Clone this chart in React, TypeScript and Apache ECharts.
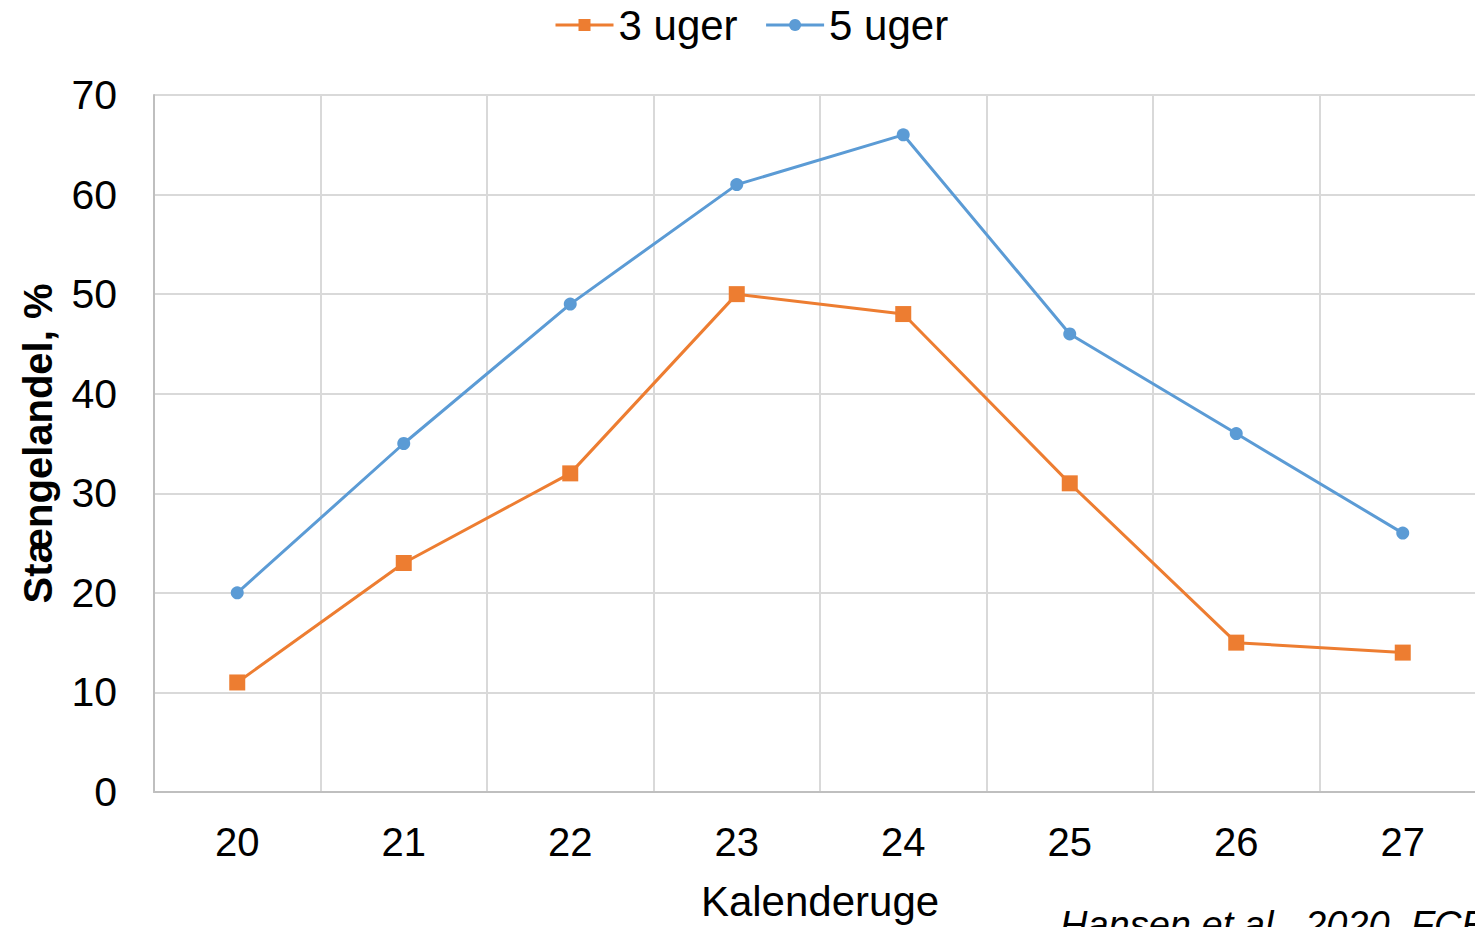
import React, { useEffect, useRef } from "react";
import * as echarts from "echarts";

const weeks = ["20", "21", "22", "23", "24", "25", "26", "27"];
const threeWeeks = [11, 23, 32, 50, 48, 31, 15, 14];
const fiveWeeks = [20, 35, 49, 61, 66, 46, 36, 26];
const yTicks = { min: 0, max: 70, interval: 10 };

const FONT = "'Liberation Sans', Arial, sans-serif";

export default function App() {
  const ref = useRef<HTMLDivElement>(null);

  useEffect(() => {
    if (!ref.current) return;
    const chart = echarts.init(ref.current, undefined, { renderer: "svg" });
    chart.setOption({
      animation: false,
      textStyle: { fontFamily: FONT, color: "#000" },
      legend: {
        top: -1,
        left: 549,
        itemWidth: 58,
        itemHeight: 15,
        itemGap: 27,
        lineStyle: { width: 3 },
        textStyle: { fontSize: 42, color: "#000", fontFamily: FONT },
        data: ["3 uger", "5 uger"],
      },
      grid: { left: 154, top: 95, right: 0, height: 700, containLabel: false },
      xAxis: {
        type: "category",
        data: weeks,
        boundaryGap: true,
        name: "Kalenderuge",
        nameLocation: "middle",
        nameGap: 88,
        nameTextStyle: { fontSize: 42, color: "#000", fontFamily: FONT },
        axisLine: { lineStyle: { color: "#bfbfbf", width: 2 } },
        axisTick: { show: false },
        axisLabel: { fontSize: 40, color: "#000", margin: 30, fontFamily: FONT },
        splitLine: { show: true, lineStyle: { color: "#d9d9d9", width: 2 } },
      },
      yAxis: {
        type: "value",
        min: yTicks.min,
        max: yTicks.max,
        interval: yTicks.interval,
        name: "Stængelandel, %",
        nameLocation: "middle",
        nameGap: 96,
        nameTextStyle: { fontSize: 40, fontWeight: "bold", color: "#000", fontFamily: FONT },
        axisLine: { show: true, lineStyle: { color: "#bfbfbf", width: 2 } },
        axisTick: { show: false },
        axisLabel: { fontSize: 41, color: "#000", margin: 37, fontFamily: FONT },
        splitLine: { show: true, lineStyle: { color: "#d9d9d9", width: 2 } },
      },
      series: [
        {
          name: "3 uger",
          type: "line",
          data: threeWeeks,
          symbol: "rect",
          symbolSize: 16,
          itemStyle: { color: "#ED7D31" },
          lineStyle: { color: "#ED7D31", width: 3 },
        },
        {
          name: "5 uger",
          type: "line",
          data: fiveWeeks,
          symbol: "circle",
          symbolSize: 13,
          itemStyle: { color: "#5B9BD5" },
          lineStyle: { color: "#5B9BD5", width: 3 },
        },
      ],
      graphic: [
        {
          type: "text",
          left: 1060,
          top: 906,
          style: {
            text: "Hansen et al., 2020, FCE",
            font: `italic 38px ${FONT}`,
            fill: "#000",
          },
        },
      ],
    });
    return () => chart.dispose();
  }, []);

  // The plot runs a little past the right edge of the visible frame.
  return (
    <div style={{ position: "fixed", left: 0, top: 0, width: 1475, height: 927, overflow: "hidden", background: "#fff" }}>
      <div ref={ref} style={{ width: 1486, height: 927 }} />
    </div>
  );
}
